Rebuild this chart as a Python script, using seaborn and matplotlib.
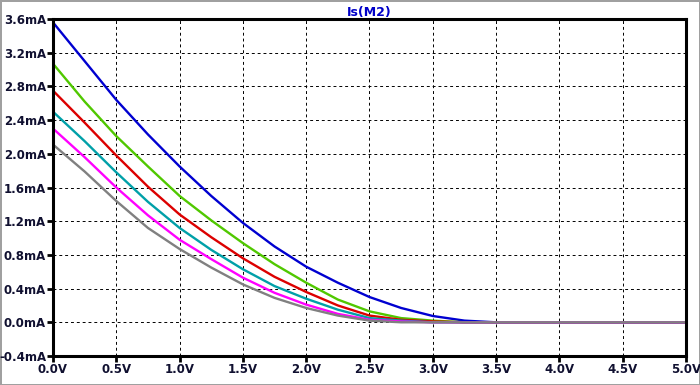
import pandas as pd
import matplotlib
matplotlib.use("Agg")
import matplotlib.pyplot as plt
import seaborn as sns
from matplotlib.ticker import FuncFormatter, MultipleLocator

# Source voltage sweep (V) and drain current traces (mA)
vs = [0.0, 0.25, 0.5, 0.75, 1.0, 1.25, 1.5, 1.75, 2.0, 2.25, 2.5, 2.75, 3.0, 3.25, 3.5, 4.0, 4.5, 5.0]
i_blue = [3.56, 3.10, 2.64, 2.23, 1.85, 1.50, 1.18, 0.90, 0.66, 0.47, 0.30, 0.17, 0.075, 0.02, 0.0, 0.0, 0.0, 0.0]
i_green = [3.07, 2.62, 2.21, 1.85, 1.50, 1.21, 0.94, 0.69, 0.47, 0.27, 0.13, 0.05, 0.02, 0.0, 0.0, 0.0, 0.0, 0.0]
i_red = [2.75, 2.37, 1.98, 1.61, 1.28, 1.01, 0.76, 0.54, 0.36, 0.20, 0.08, 0.03, 0.01, 0.0, 0.0, 0.0, 0.0, 0.0]
i_cyan = [2.50, 2.15, 1.78, 1.43, 1.12, 0.86, 0.63, 0.43, 0.28, 0.15, 0.05, 0.02, 0.0, 0.0, 0.0, 0.0, 0.0, 0.0]
i_magenta = [2.30, 1.96, 1.60, 1.27, 0.98, 0.75, 0.53, 0.35, 0.21, 0.10, 0.03, 0.01, 0.0, 0.0, 0.0, 0.0, 0.0, 0.0]
i_gray = [2.11, 1.79, 1.44, 1.12, 0.87, 0.65, 0.45, 0.29, 0.17, 0.08, 0.02, 0.0, 0.0, 0.0, 0.0, 0.0, 0.0, 0.0]

traces = {"blue": i_blue, "green": i_green, "red": i_red,
          "cyan": i_cyan, "magenta": i_magenta, "gray": i_gray}
colors = {"blue": "#0000d0", "green": "#50c800", "red": "#dc0000",
          "cyan": "#00a0a8", "magenta": "#ff00ff", "gray": "#808080"}

df = pd.concat([pd.DataFrame({"V": vs, "I": vals, "trace": name})
                for name, vals in traces.items()], ignore_index=True)

sns.set_style("white")
plt.rcParams['font.family'] = ['DejaVu Sans']

fig = plt.figure(figsize=(7, 3.85), dpi=100)
ax = fig.add_axes([0.0757, 0.0753, 0.9043, 0.8753])

sns.lineplot(data=df, x="V", y="I", hue="trace", palette=colors,
             sort=False, linewidth=1.7, legend=False, ax=ax)

ax.set_xlim(0, 5)
ax.set_ylim(-0.4, 3.6)
ax.xaxis.set_major_locator(MultipleLocator(0.5))
ax.yaxis.set_major_locator(MultipleLocator(0.4))
ax.xaxis.set_major_formatter(FuncFormatter(lambda v, p: f"{v:.1f}V"))
ax.yaxis.set_major_formatter(FuncFormatter(lambda v, p: f"{abs(v) if abs(v) < 1e-9 else v:.1f}mA"))

ax.grid(True, color="black", linestyle=(0, (3, 3)), linewidth=0.7)
for s in ax.spines.values():
    s.set_color("black")
    s.set_linewidth(2.2)
ax.tick_params(axis="both", direction="out", length=4, width=2, color="black",
               labelsize=8.5, pad=1, bottom=True, left=True)
for lab in ax.get_xticklabels() + ax.get_yticklabels():
    lab.set_fontweight("bold")
    lab.set_color("#101030")

ax.set_xlabel("")
ax.set_ylabel("")
ax.set_title("Is(M2)", color="#0000c8", fontsize=9, fontweight="bold", pad=2)

fig.patch.set_edgecolor("#a0a0a0")
fig.patch.set_linewidth(2)

fig.savefig("out.png", dpi=100)
